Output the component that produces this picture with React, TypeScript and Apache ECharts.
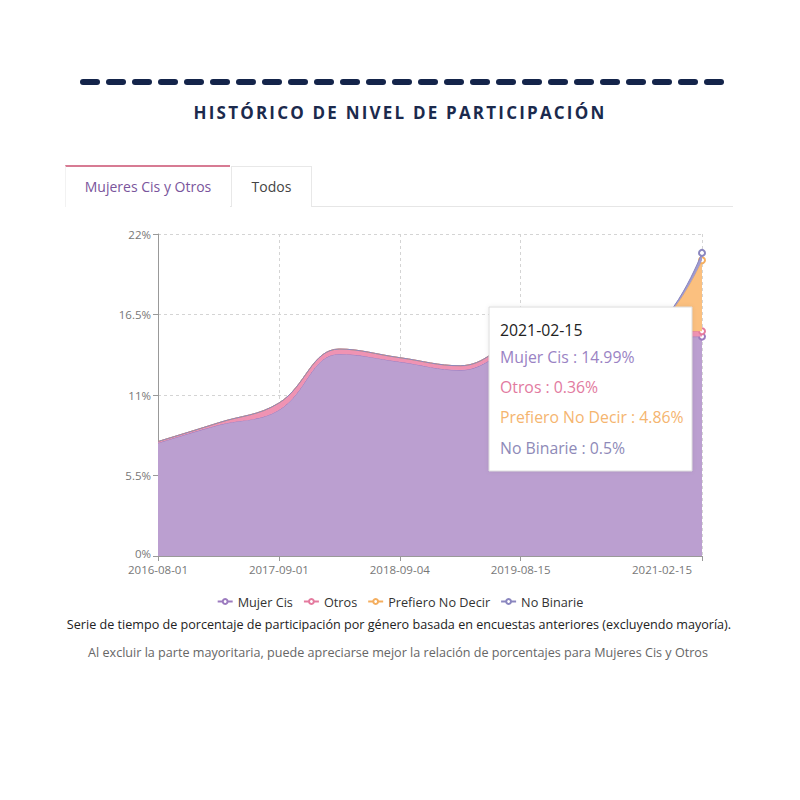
import React, { useEffect, useRef } from "react";
import * as echarts from "echarts";

const dates = [
  "2016-08-01", "2017-02-15", "2017-09-01", "2018-03-01", "2018-09-04",
  "2019-02-15", "2019-08-15", "2020-02-15", "2020-08-15", "2021-02-15",
];
const xLabelIdx = [0, 2, 4, 6, 9];
const seriesNames = ["Mujer Cis", "Otros", "Prefiero No Decir", "No Binarie"];
const mujerCis = [7.72, 8.95, 9.97, 13.8, 13.27, 12.7, 14.45, 14.9, 14.95, 14.99];
const otros = [0.1, 0.15, 0.48, 0.34, 0.28, 0.3, 0.38, 0.36, 0.36, 0.36];
const prefieroNoDecir = [0, 0, 0, 0, 0, 0, 0, 0, 0, 4.86];
const noBinarie = [0, 0, 0, 0, 0, 0, 0, 0, 0, 0.5];
const yMax = 22;
const yStep = 5.5;
const lineColors = ["#9c7bbf", "#e47b9f", "#f4ae5f", "#8a86bf"];
const areaColors = ["#bb9fd0", "#ef93b3", "#fbc07f", "#a09bcf"];
const textColors = ["#9a83c4", "#e27aa0", "#f5b56f", "#8e8ab8"];

const title = "HISTÓRICO DE NIVEL DE PARTICIPACIÓN";
const tabs = ["Mujeres Cis y Otros", "Todos"];
const caption1 =
  "Serie de tiempo de porcentaje de participación por género basada en encuestas anteriores (excluyendo mayoría).";
const caption2 =
  "Al excluir la parte mayoritaria, puede apreciarse mejor la relación de porcentajes para Mujeres Cis y Otros";

const FONT = "'Open Sans', 'Noto Sans', sans-serif";

export default function App() {
  const ref = useRef<HTMLDivElement>(null);

  useEffect(() => {
    if (!ref.current) return;
    const chart = echarts.init(ref.current, undefined, { renderer: "svg" });
    const all = [mujerCis, otros, prefieroNoDecir, noBinarie];
    const last = dates.length - 1;

    const series = all.map((vals, k) => ({
      name: seriesNames[k],
      type: "line",
      stack: "total",
      smooth: 0.4,
      symbol: "emptyCircle",
      showSymbol: true,
      symbolSize: (_v: any, p: any) => (p.dataIndex === last ? 6 : 0),
      data: vals,
      color: lineColors[k],
      lineStyle: { width: 1, color: lineColors[k] },
      itemStyle: { color: lineColors[k], borderColor: k === 3 ? "#5f5a8f" : "#fff" },
      areaStyle: { color: areaColors[k], opacity: 1 },
      z: 2 + k,
    }));

    const tipLines = [
      { text: dates[last], color: "#222" },
      ...all.map((vals, k) => ({
        text: `${seriesNames[k]} : ${vals[last]}%`,
        color: textColors[k],
      })),
    ];
    const tipY = [23, 50, 80, 110, 141];

    const option: any = {
      animation: false,
      textStyle: { fontFamily: FONT },
      grid: { left: 158, top: 234, width: 544, height: 322, containLabel: false },
      legend: {
        data: seriesNames,
        top: 590,
        left: "center",
        itemWidth: 15,
        itemHeight: 6,
        itemGap: 10,
        textStyle: { fontSize: 12.7, color: "#333", fontFamily: FONT },
      },
      xAxis: {
        type: "category",
        boundaryGap: false,
        data: dates,
        axisLine: { lineStyle: { color: "#999" } },
        axisTick: {
          interval: (i: number) => xLabelIdx.includes(i),
          length: 5,
          lineStyle: { color: "#999" },
        },
        axisLabel: {
          interval: (i: number) => xLabelIdx.includes(i),
          color: "#777",
          fontSize: 11.5,
          lineHeight: 12,
          fontFamily: FONT,
          margin: 7,
          formatter: (v: string, i: number) => (i === last ? `{r|${v}}` : v),
          rich: {
            r: { padding: [0, 80, 0, 0], color: "#777", fontSize: 11.5, lineHeight: 12, fontFamily: FONT },
          },
        },
        splitLine: {
          show: true,
          interval: (i: number) => xLabelIdx.includes(i) && i > 0,
          lineStyle: { type: [3, 3], color: "#d4d4d4" },
        },
      },
      yAxis: {
        type: "value",
        min: 0,
        max: yMax,
        interval: yStep,
        axisLine: { show: true, lineStyle: { color: "#999" } },
        axisTick: { show: true, length: 5, lineStyle: { color: "#999" } },
        axisLabel: {
          formatter: (v: number) => (v === 0 ? `{z|${v}%}` : `${v}%`),
          color: "#777",
          fontSize: 11.5,
          lineHeight: 10,
          fontFamily: FONT,
          margin: 7,
          rich: {
            z: { padding: [0, 0, 6, 0], color: "#777", fontSize: 11.5, lineHeight: 10, fontFamily: FONT },
          },
        },
        splitLine: { lineStyle: { type: [3, 3], color: "#d4d4d4" } },
      },
      series,
      graphic: [
        {
          type: "group",
          x: 489,
          y: 307,
          z: 100,
          children: [
            {
              type: "rect",
              z: 100,
              shape: { x: 0, y: 0, width: 203, height: 164 },
              style: {
                fill: "#fff",
                stroke: "#dcdcdc",
                lineWidth: 1,
                shadowBlur: 4,
                shadowColor: "rgba(0,0,0,0.08)",
              },
            },
            ...tipLines.map((l, i) => ({
              type: "text",
              z: 101,
              x: 11,
              y: tipY[i],
              style: {
                text: l.text,
                fill: l.color,
                fontSize: 15.8,
                fontFamily: FONT,
                verticalAlign: "middle",
              },
            })),
          ],
        },
      ],
    };
    chart.setOption(option);
    return () => chart.dispose();
  }, []);

  return (
    <div
      style={{
        position: "fixed",
        left: 0,
        top: 0,
        width: 800,
        height: 800,
        background: "#fff",
        fontFamily: FONT,
        overflow: "hidden",
      }}
    >
      <div ref={ref} style={{ position: "absolute", left: 0, top: 0, width: 800, height: 800 }} />
      <div style={{ position: "absolute", left: 80, top: 79, display: "flex", zIndex: 2 }}>
        {Array.from({ length: 25 }).map((_, i) => (
          <div
            key={i}
            style={{
              width: 20,
              height: 6,
              borderRadius: 3,
              background: "#14244a",
              marginRight: i < 24 ? 6 : 0,
            }}
          />
        ))}
      </div>
      <div
        style={{
          position: "absolute",
          left: 0,
          top: 102,
          width: 800,
          height: 22,
          lineHeight: "22px",
          textAlign: "center",
          fontSize: 17,
          fontWeight: 700,
          letterSpacing: "2.2px",
          color: "#1b2a4d",
          zIndex: 2,
        }}
      >
        {title}
      </div>
      <div
        style={{
          position: "absolute",
          left: 229,
          top: 206,
          width: 504,
          height: 1,
          background: "#e6e6e6",
          zIndex: 2,
        }}
      />
      <div
        style={{
          position: "absolute",
          left: 65,
          top: 165,
          width: 164,
          height: 40,
          lineHeight: "40px",
          borderTop: "2px solid #d77b93",
          borderLeft: "1px solid #f2f2f2",
          background: "#fff",
          textAlign: "center",
          fontSize: 14,
          color: "#7a559c",
          boxSizing: "content-box",
          zIndex: 2,
        }}
      >
        {tabs[0]}
      </div>
      <div
        style={{
          position: "absolute",
          left: 231,
          top: 166,
          width: 79,
          height: 40,
          lineHeight: "40px",
          border: "1px solid #e8e8e8",
          borderBottom: "none",
          background: "#fff",
          textAlign: "center",
          fontSize: 14,
          color: "#444",
          zIndex: 2,
        }}
      >
        {tabs[1]}
      </div>
      <div
        style={{
          position: "absolute",
          left: 0,
          top: 616,
          width: 798,
          height: 18,
          lineHeight: "18px",
          textAlign: "center",
          fontSize: 12.6,
          color: "#222",
          zIndex: 2,
        }}
      >
        {caption1}
      </div>
      <div
        style={{
          position: "absolute",
          left: 0,
          top: 644,
          width: 796,
          height: 18,
          lineHeight: "18px",
          textAlign: "center",
          fontSize: 12.6,
          color: "#666",
          zIndex: 2,
        }}
      >
        {caption2}
      </div>
    </div>
  );
}
